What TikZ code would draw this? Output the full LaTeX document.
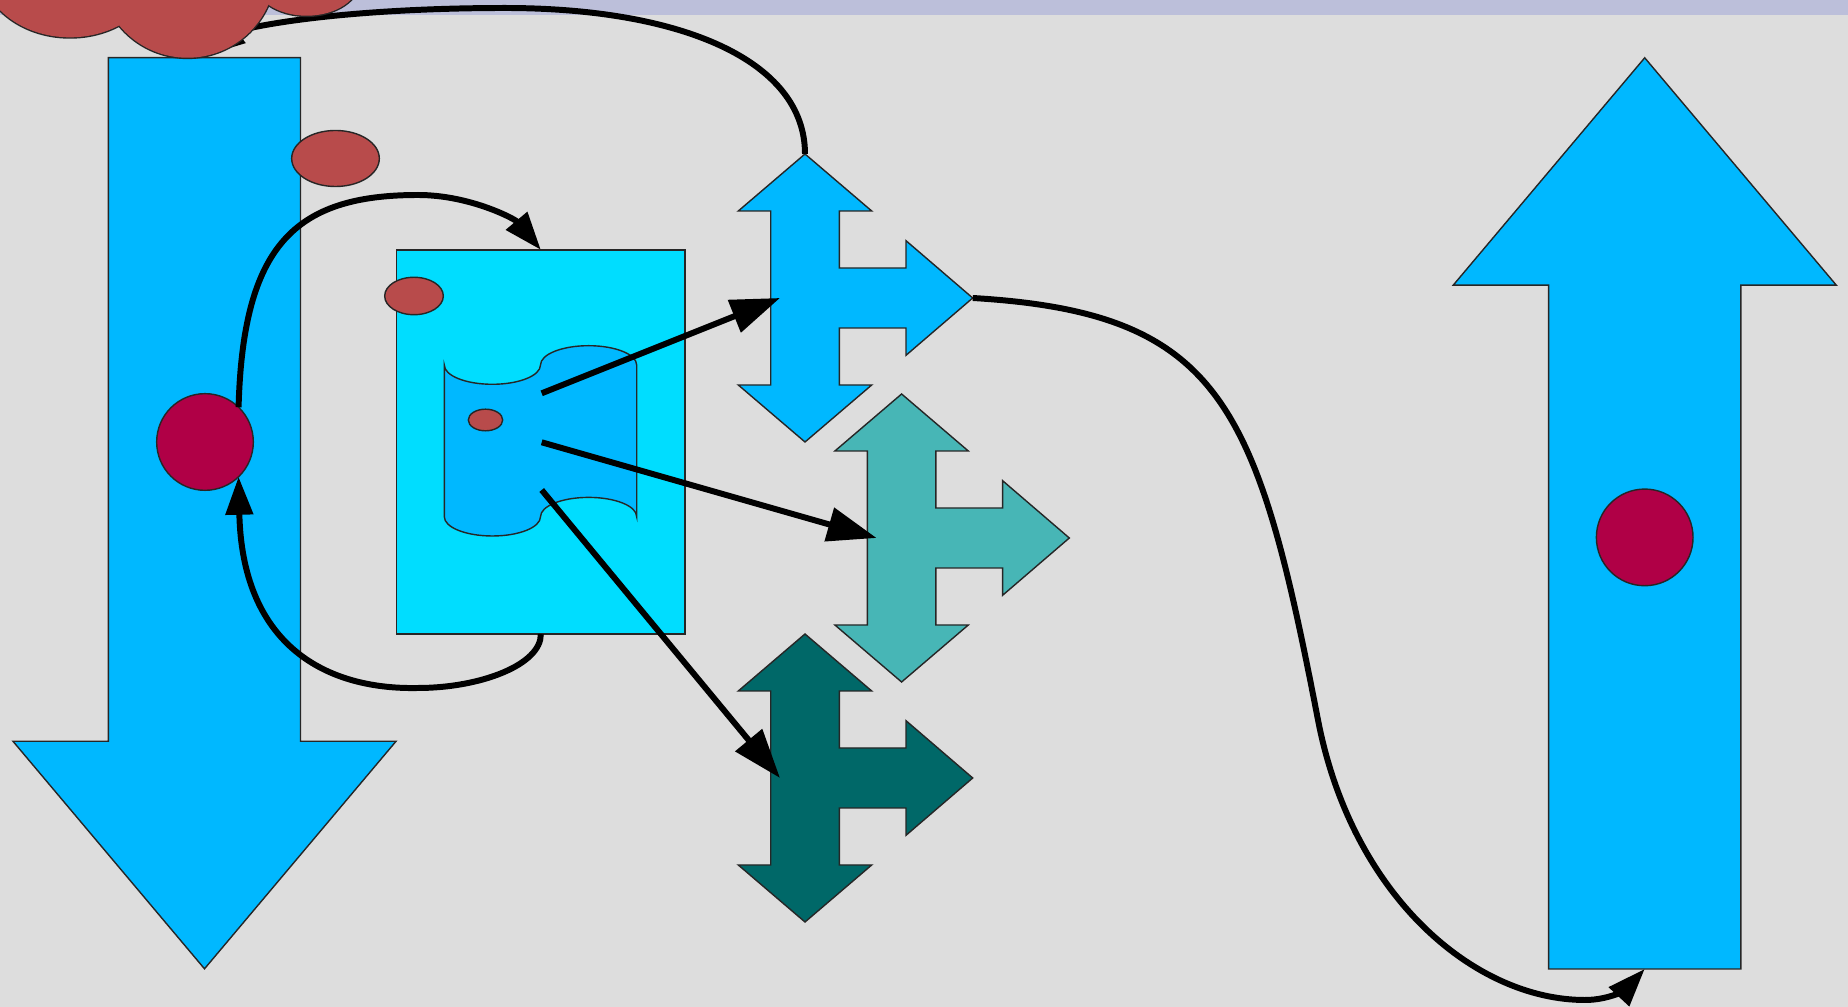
\documentclass[tikz,border=0pt]{standalone}
\usetikzlibrary{arrows.meta,shapes.geometric}

\definecolor{pagegray}{HTML}{DDDDDD}
\definecolor{barlilac}{HTML}{BCBFDA}
\definecolor{skyblue}{HTML}{00B8FF}
\definecolor{aqua}{HTML}{00DDFF}
\definecolor{seateal}{HTML}{47B6B6}
\definecolor{deepteal}{HTML}{006868}
\definecolor{brick}{HTML}{B84B4B}
\definecolor{crimson}{HTML}{B00046}

\tikzset{
  outline/.style={draw=black!85, line width=0.4pt},
  spot/.style={ellipse, outline, fill=brick, inner sep=0pt, outer sep=0pt},
  dot/.style={circle, outline, fill=crimson, inner sep=0pt, outer sep=0pt, minimum size=0.966cm},
  link/.style={line width=1.7pt, line join=round},
  bigtip/.style={-{Triangle[length=14pt,width=9.6pt]}},
  smalltip/.style={-{Triangle[length=10.8pt,width=7.6pt]}},
  lobe/.style={draw=black!85, line width=0.8pt},
  % arrow pointing up, down and right, centred on its placement point
  threeway/.pic={
    \path[pic actions] (0,-144) -- (66.7,-87) -- (34.3,-87) -- (34.3,-30)
      -- (101,-30) -- (101,-57.3) -- (167.7,0) -- (101,57.3) -- (101,30)
      -- (34.3,30) -- (34.3,87) -- (66.7,87) -- (0,144) -- (-66.7,87)
      -- (-34.3,87) -- (-34.3,-87) -- (-66.7,-87) -- cycle;
    \coordinate (-n) at (0,-144);
    \coordinate (-e) at (167.7,0);
    \coordinate (-w) at (-25,0);
  }
}

\begin{document}
\begin{tikzpicture}[x=0.01cm, y=-0.01cm]
\useasboundingbox (0,0) rectangle (1848,1007);
\fill[pagegray] (0,0) rectangle (1848,1007);
\begin{scope}
\clip (0,0) rectangle (1848,1007);
\fill[barlilac] (0,0) rectangle (1848,15);

% large down arrow on the left
\path[outline, fill=skyblue] (108.4,57.7) -- (300.5,57.7) -- (300.5,741.3)
  -- (396,741.3) -- (204.5,968.8) -- (13,741.3) -- (108.4,741.3) -- cycle;

% large up arrow on the right
\path[outline, fill=skyblue] (1548.6,969) -- (1548.6,285.2) -- (1453.2,285.2)
  -- (1644.7,57.8) -- (1836.3,285.2) -- (1740.8,285.2) -- (1740.8,969) -- cycle;
\coordinate (rarr-s) at (1644.7,969);

\node[spot, minimum width=0.876cm, minimum height=0.56cm] (spotA) at (335.5,158.5) {};

% panel with the tape symbol
\node[outline, fill=aqua, rectangle, minimum width=2.883cm, minimum height=3.84cm,
      inner sep=0pt, outer sep=0pt] (panel) at (540.85,442) {};
\node[spot, minimum width=0.586cm, minimum height=0.374cm] (spotB) at (414,296) {};

\path[outline, fill=skyblue] (444.3,365)
  .. controls (444.3,375.7) and (465.8,384.3) .. (492.4,384.3)
  .. controls (519,384.3) and (540.5,375.7) .. (540.5,365)
  .. controls (540.5,354.3) and (562,345.7) .. (588.6,345.7)
  .. controls (615.2,345.7) and (636.7,354.3) .. (636.7,365)
  -- (636.7,516.7)
  .. controls (636.7,506) and (615.2,497.4) .. (588.6,497.4)
  .. controls (562,497.4) and (540.5,506) .. (540.5,516.7)
  .. controls (540.5,527.4) and (519,536) .. (492.4,536)
  .. controls (465.8,536) and (444.3,527.4) .. (444.3,516.7) -- cycle;
\node[spot, minimum width=0.344cm, minimum height=0.216cm] (spotC) at (485.5,420) {};
\coordinate (scr-a) at (541.7,393.3);
\coordinate (scr-b) at (541.7,442.3);
\coordinate (scr-c) at (541.7,490);

% three-way arrows
\pic[outline, fill=skyblue] (ba) at (805,298) {threeway};
\pic[outline, fill=seateal] (ta) at (901.6,538) {threeway};
\pic[outline, fill=deepteal] (da) at (805,778) {threeway};

% round markers
\node[dot] (lcirc) at (205,442) {};
\node[dot] (rcirc) at (1644.7,537.4) {};

\coordinate (cloud-s) at (207,55);

% connectors
\draw[link, bigtip] (scr-a) -- (ba-w);
\draw[link, bigtip] (scr-b) -- (ta-w);
\draw[link, bigtip] (scr-c) -- (da-w);

\draw[link, smalltip] (lcirc.46) .. controls (243,245) and (295,195) .. (418,195)
  .. controls (470,195) and (515,219) .. (panel.north);
\draw[link, smalltip] (panel.south) .. controls (541,665) and (480,688) .. (418,688)
  .. controls (320,690) and (242,640) .. (lcirc.-46);
\draw[link, smalltip] (ba-e) .. controls (1222,312.7) and (1257,405) .. (1318,720)
  .. controls (1352.2,896.8) and (1475,1000) .. (1585,1000)
  .. controls (1612,1000) and (1628,987) .. (rarr-s);
\draw[link, smalltip] (ba-n) .. controls (805,60) and (680,8) .. (505,8)
  .. controls (400,8) and (310,16) .. (255,27)
  .. controls (235,31) and (220,45) .. (cloud-s);

% cloud at the top edge: thick outlines first, fills on top leave the outer contour
\draw[lobe] (70,-35) ellipse [x radius=0.894cm, y radius=0.723cm];
\draw[lobe] (187.5,-30) ellipse [x radius=0.88cm, y radius=0.877cm];
\draw[lobe] (306.7,-20) ellipse [x radius=0.53cm, y radius=0.357cm];
\fill[brick] (70,-35) ellipse [x radius=0.894cm, y radius=0.723cm];
\fill[brick] (187.5,-30) ellipse [x radius=0.88cm, y radius=0.877cm];
\fill[brick] (306.7,-20) ellipse [x radius=0.53cm, y radius=0.357cm];
\end{scope}
\end{tikzpicture}
\end{document}
